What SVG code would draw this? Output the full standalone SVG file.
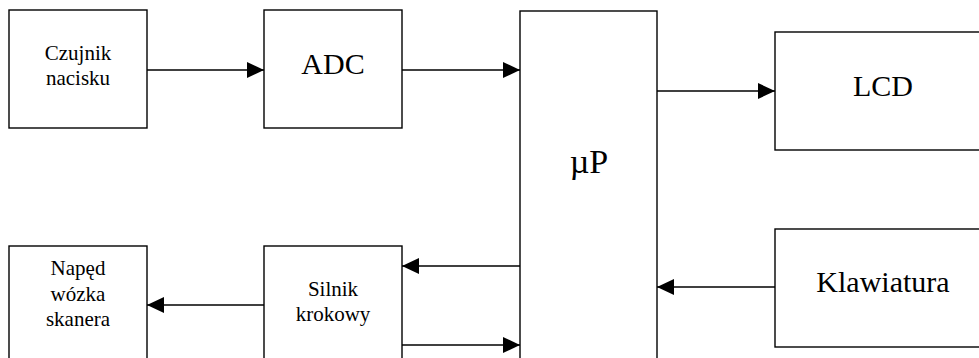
<svg xmlns="http://www.w3.org/2000/svg" width="979" height="358" viewBox="0 0 979 358">
<style>
.box{fill:#fff;stroke:#000;stroke-width:1.4}
.ln{fill:none;stroke:#000;stroke-width:1.4}
text{font-family:"Liberation Serif","Times New Roman",serif;fill:#000;text-anchor:middle}
.s{font-size:21px}
.b{font-size:30px}
</style>
<defs>
<marker id="ah" markerUnits="userSpaceOnUse" markerWidth="18" markerHeight="16" refX="17" refY="8" orient="auto">
<path d="M0,0 L17,8 L0,16 Z" fill="#000"/>
</marker>
</defs>
<rect width="979" height="358" fill="#fff"/>
<g id="czujnik"><rect class="box" x="9" y="10" width="138" height="118"/><text class="s" x="78" y="60">Czujnik</text><text class="s" x="78" y="85">nacisku</text></g>
<g id="adc"><rect class="box" x="264" y="10" width="138" height="118"/><text class="b" x="333" y="74">ADC</text></g>
<g id="up"><rect class="box" x="520" y="11" width="137" height="360"/><text class="b" x="589" y="173" style="font-size:34px">µP</text></g>
<g id="lcd"><rect class="box" x="775" y="32" width="220" height="118"/><text class="b" x="883" y="96">LCD</text></g>
<g id="klawiatura"><rect class="box" x="775" y="229" width="220" height="118"/><text class="b" x="883" y="292">Klawiatura</text></g>
<g id="naped"><rect class="box" x="9" y="246" width="138" height="130"/><text class="s" x="78" y="275">Napęd</text><text class="s" x="78" y="301">wózka</text><text class="s" x="78" y="326">skanera</text></g>
<g id="silnik"><rect class="box" x="264" y="246" width="138" height="130"/><text class="s" x="333" y="296">Silnik</text><text class="s" x="333" y="321">krokowy</text></g>
<g id="connectors">
<line class="ln" x1="147" y1="70" x2="264" y2="70" marker-end="url(#ah)"/>
<line class="ln" x1="402" y1="70" x2="520" y2="70" marker-end="url(#ah)"/>
<line class="ln" x1="657" y1="91" x2="775" y2="91" marker-end="url(#ah)"/>
<line class="ln" x1="775" y1="287" x2="657" y2="287" marker-end="url(#ah)"/>
<line class="ln" x1="520" y1="266" x2="402" y2="266" marker-end="url(#ah)"/>
<line class="ln" x1="264" y1="305" x2="147" y2="305" marker-end="url(#ah)"/>
<line class="ln" x1="402" y1="345" x2="520" y2="345" marker-end="url(#ah)"/>
</g>
</svg>
